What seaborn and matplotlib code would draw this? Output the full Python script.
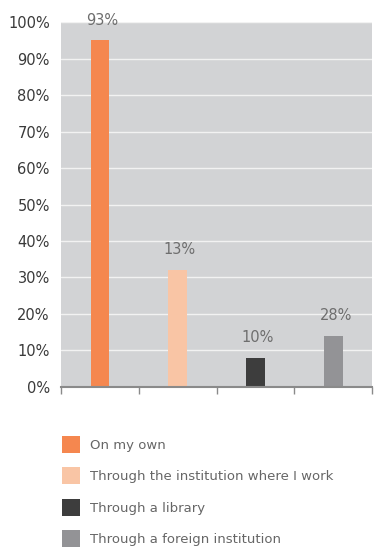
import matplotlib
matplotlib.use("Agg")
import matplotlib.pyplot as plt
import seaborn as sns
import pandas as pd
from matplotlib.patches import Patch

categories = ["On my own", "Through the institution where I work",
              "Through a library", "Through a foreign institution"]
values = [95, 32, 8, 14]
labels = ["93%", "13%", "10%", "28%"]
colors = ["#f5874f", "#f9c5a5", "#3d3d3d", "#939396"]
yticks = [0, 10, 20, 30, 40, 50, 60, 70, 80, 90, 100]

df = pd.DataFrame({"cat": categories, "val": values})

sns.set_style("white")
plt.rcParams['font.family'] = ['DejaVu Sans']

fig = plt.figure(figsize=(3.74, 5.52), dpi=100)
ax = fig.add_axes([0.163, 0.299, 0.832, 0.661])
ax.set_facecolor("#d2d3d5")

sns.barplot(data=df, x="cat", y="val", hue="cat", palette=colors,
            width=0.24, legend=False, ax=ax, saturation=1, linewidth=0)

ax.set_ylim(0, 100)
ax.set_xlim(-0.5, len(categories) - 0.5)
ax.set_yticks(yticks)
ax.set_yticklabels([f"{t}%" for t in yticks], fontsize=10.5, color="#3a3a3a")
ax.set_xticks([i - 0.5 for i in range(len(categories) + 1)])
ax.set_xticklabels([])
ax.tick_params(axis="x", direction="out", length=5, width=1, color="#8a8a8a", bottom=True)
ax.tick_params(axis="y", length=0, pad=8)
ax.set_xlabel("")
ax.set_ylabel("")
ax.yaxis.grid(True, color="#f2f2f2", linewidth=1)
ax.set_axisbelow(True)
for s in ["top", "right", "left"]:
    ax.spines[s].set_visible(False)
ax.spines["bottom"].set_color("#8a8a8a")
ax.spines["bottom"].set_linewidth(1.5)

for i, (v, lab) in enumerate(zip(values, labels)):
    ax.text(i + 0.03, v + 3.5, lab, ha="center", va="bottom", fontsize=10.5,
            color="#6e6e6e", clip_on=False)

handles = [Patch(facecolor=c, edgecolor="none") for c in colors]
leg = fig.legend(handles, categories, loc="upper left",
                 bbox_to_anchor=(0.135, 0.232), frameon=False,
                 fontsize=9.5, labelcolor="#666666", handlelength=1.3,
                 handleheight=1.6, handletextpad=0.8, labelspacing=1.1)

fig.savefig("out.png", dpi=100)
